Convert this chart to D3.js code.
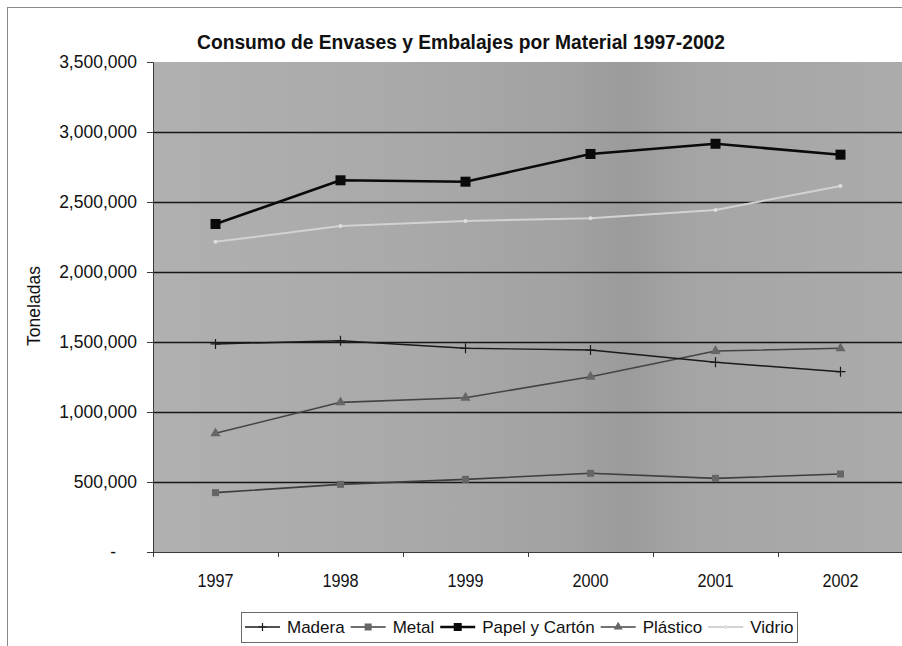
<!DOCTYPE html>
<html>
<head>
<meta charset="utf-8">
<script src="https://cdn.jsdelivr.net/npm/d3@7/dist/d3.min.js"></script>
<style>
  html, body { margin: 0; padding: 0; background: #fff; }
  svg { display: block; }
  text { font-family: "Liberation Sans", Arial, Helvetica, sans-serif; fill: #111; }
</style>
</head>
<body>
<svg id="chart" width="902" height="646"></svg>
<script>
// Consumo de envases y embalajes (toneladas) por material
const years = ["1997", "1998", "1999", "2000", "2001", "2002"];
const seriesNames = ["Madera", "Metal", "Papel y Cartón", "Plástico", "Vidrio"];
const madera   = [1486000, 1509000, 1455000, 1443000, 1355000, 1288000];
const metal    = [424000, 483000, 519000, 562000, 526000, 557000];
const papel    = [2343000, 2655000, 2645000, 2843000, 2916000, 2838000];
const plastico = [848000, 1069000, 1102000, 1252000, 1436000, 1455000];
const vidrio   = [2216000, 2329000, 2364000, 2384000, 2443000, 2614000];
const yTicks   = [0, 500000, 1000000, 1500000, 2000000, 2500000, 3000000, 3500000];

const title = "Consumo de Envases y Embalajes por Material 1997-2002";
const yTitle = "Toneladas";

const values = [madera, metal, papel, plastico, vidrio];

// drawing styles per series, in the same order as seriesNames
const styles = [
  { stroke: "#1a1a1a", width: 1.4, marker: "cross",    fill: "none",    size: 10 },
  { stroke: "#3e3e3e", width: 1.6, marker: "square",   fill: "#666666", size: 7 },
  { stroke: "#0a0a0a", width: 2.6, marker: "square",   fill: "#0a0a0a", size: 10 },
  { stroke: "#444444", width: 1.6, marker: "triangle", fill: "#666666", size: 9 },
  { stroke: "#d2d2d2", width: 2.0, marker: "circle",   fill: "#dedede", size: 4 }
];

const series = seriesNames.map((name, i) => ({
  name,
  style: styles[i],
  points: years.map((yr, j) => ({ year: yr, value: values[i][j] }))
}));

const svg = d3.select("#chart");
const plot = { left: 153, right: 903, top: 62, bottom: 552 };

const x = d3.scaleBand().domain(years).range([plot.left, plot.right]).padding(0);
const cx = d => x(d) + x.bandwidth() / 2;
const y = d3.scaleLinear().domain([0, 3500000]).range([plot.bottom, plot.top]);

// outer chart frame (only top and left edges fall inside the page)
svg.append("rect")
  .attr("x", 7.5).attr("y", 7.5)
  .attr("width", 940).attr("height", 680)
  .attr("fill", "none").attr("stroke", "#8a8a8a").attr("stroke-width", 1);

// plot area background
const defs = svg.append("defs");
const grad = defs.append("linearGradient").attr("id", "plotbg")
  .attr("x1", "0").attr("x2", "1").attr("y1", "0").attr("y2", "0");
[[0, "#b0b0b0"], [0.35, "#a9a9a9"], [0.55, "#a2a2a2"], [0.63, "#9b9b9b"], [0.72, "#a5a5a5"], [1, "#ababab"]]
  .forEach(([o, c]) => grad.append("stop").attr("offset", o).attr("stop-color", c));

svg.append("rect")
  .attr("x", plot.left).attr("y", plot.top)
  .attr("width", plot.right - plot.left).attr("height", plot.bottom - plot.top)
  .attr("fill", "url(#plotbg)");

// horizontal gridlines
svg.append("g").selectAll("line")
  .data(yTicks.filter(v => v > 0 && v < 3500000))
  .join("line")
  .attr("x1", plot.left).attr("x2", plot.right)
  .attr("y1", d => Math.round(y(d)) + 0.5).attr("y2", d => Math.round(y(d)) + 0.5)
  .attr("stroke", "#161616").attr("stroke-width", 1.4);

// y axis
const yAxis = svg.append("g")
  .attr("transform", `translate(${plot.left},0)`)
  .call(d3.axisLeft(y).tickValues(yTicks).tickSize(6).tickPadding(10)
    .tickFormat(v => v === 0 ? "-" : d3.format(",")(v)));
yAxis.select(".domain").attr("stroke", "#3a3a3a");
yAxis.selectAll(".tick line").attr("stroke", "#3a3a3a");
yAxis.selectAll(".tick text")
  .style("font-size", "17.5px")
  .attr("fill", "#111")
  .attr("dx", v => v === 0 ? -21 : 0);

// x axis: labels at category centres, ticks between categories
const xAxis = svg.append("g")
  .attr("transform", `translate(0,${plot.bottom})`)
  .call(d3.axisBottom(x).tickSize(0).tickPadding(22));
xAxis.select(".domain").attr("stroke", "#3a3a3a");
xAxis.selectAll(".tick text")
  .style("font-size", "18px").attr("fill", "#111")
  .each(function () {
    const w = this.getComputedTextLength();
    d3.select(this).attr("textLength", w * 0.9).attr("lengthAdjust", "spacingAndGlyphs");
  });

svg.append("g").selectAll("line")
  .data(years.map(d => x(d)).concat([plot.right]))
  .join("line")
  .attr("x1", d => Math.round(d) + 0.5).attr("x2", d => Math.round(d) + 0.5)
  .attr("y1", plot.bottom).attr("y2", plot.bottom + 5)
  .attr("stroke", "#3a3a3a");

// axis title
svg.append("text")
  .attr("transform", "translate(40,306) rotate(-90)")
  .attr("text-anchor", "middle")
  .style("font-size", "17.5px")
  .text(yTitle);

// chart title
svg.append("text")
  .attr("x", 197).attr("y", 49)
  .attr("textLength", 528).attr("lengthAdjust", "spacingAndGlyphs")
  .style("font-size", "19.5px").style("font-weight", "bold")
  .text(title);

// marker drawing
function drawMarker(g, st) {
  const s = st.size;
  if (st.marker === "cross") {
    g.append("path").attr("d", `M0,${-s / 2}V${s / 2}M${-s / 2},0H${s / 2}`)
      .attr("stroke", st.stroke).attr("stroke-width", 1.2).attr("fill", "none");
  } else if (st.marker === "square") {
    g.append("rect").attr("x", -s / 2).attr("y", -s / 2).attr("width", s).attr("height", s)
      .attr("fill", st.fill);
  } else if (st.marker === "triangle") {
    g.append("path").attr("d", d3.symbol(d3.symbolTriangle, s * s * 0.55)())
      .attr("fill", st.fill);
  } else {
    g.append("circle").attr("r", s / 2).attr("fill", st.fill);
  }
}

const line = d3.line().x(d => cx(d.year)).y(d => y(d.value));

// draw series, back to front
const drawOrder = [4, 1, 3, 0, 2];
drawOrder.forEach(i => {
  const s = series[i];
  const g = svg.append("g");
  g.append("path").datum(s.points)
    .attr("d", line)
    .attr("fill", "none")
    .attr("stroke", s.style.stroke)
    .attr("stroke-width", s.style.width)
    .attr("stroke-linejoin", "round");
  g.selectAll("g.m").data(s.points).join("g")
    .attr("class", "m")
    .attr("transform", d => `translate(${cx(d.year)},${y(d.value)})`)
    .each(function () { drawMarker(d3.select(this), s.style); });
});

// legend
const legend = svg.append("g");
legend.append("rect")
  .attr("x", 241.5).attr("y", 612.5).attr("width", 556).attr("height", 30)
  .attr("fill", "#fff").attr("stroke", "#6a6a6a").attr("stroke-width", 1);

let lx = 245;
const ly = 627;
series.forEach(s => {
  const item = legend.append("g");
  item.append("line")
    .attr("x1", lx).attr("x2", lx + 35).attr("y1", ly).attr("y2", ly)
    .attr("stroke", s.style.stroke).attr("stroke-width", s.style.width);
  const mg = item.append("g").attr("transform", `translate(${lx + 17.5},${ly})`);
  drawMarker(mg, Object.assign({}, s.style, { size: Math.min(s.style.size, 8) }));
  const t = item.append("text")
    .attr("x", lx + 42).attr("y", ly + 6)
    .style("font-size", "17px")
    .text(s.name);
  lx += 42 + t.node().getComputedTextLength() + 6;
});
</script>
</body>
</html>
